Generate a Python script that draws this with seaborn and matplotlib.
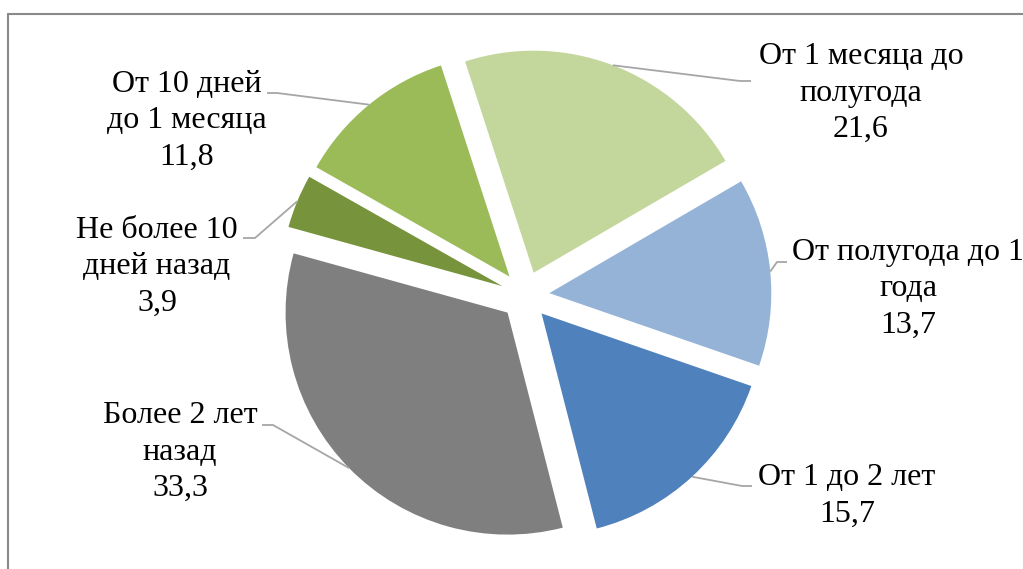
import numpy as np
import matplotlib
matplotlib.use("Agg")
import matplotlib.pyplot as plt
import seaborn as sns

# data, clockwise from the upper slice
labels = ["От 1 месяца до\nполугода", "От полугода до 1\nгода", "От 1 до 2 лет",
          "Более 2 лет\nназад", "Не более 10\nдней назад", "От 10 дней\nдо 1 месяца"]
values = [21.6, 13.7, 15.7, 33.3, 3.9, 11.8]
colors = ["#C3D69B", "#95B3D7", "#4F81BD", "#7F7F7F", "#77933C", "#9BBB59"]

sns.set_style("white")
plt.rcParams['font.family'] = ['Liberation Serif', 'DejaVu Serif']

W, H = 1023, 569
CX, CY, R = 525, 295.5, 222.0
EXPLODE = 0.11

# label block centres, elbow and end of the leader line (pixels)
label_pos = [(861, 93), (908, 289), (847, 496), (180, 452), (157, 267), (187, 121)]
leader = [((740, 81), (751, 81)), ((777, 262), (787, 262)), ((742, 486), (752, 486)),
          ((273, 425), (262, 425)), ((255, 238), (243, 238)), ((277, 93), (267, 93))]


def px(x, y):
    return (x - CX) / R, (CY - y) / R


fig = plt.figure(figsize=(W / 100, H / 100), dpi=100)
ax = fig.add_axes([0, 0, 1, 1])
palette = sns.color_palette(colors)
wedges, _ = ax.pie(values, colors=palette, startangle=108, counterclock=False,
                   explode=[EXPLODE] * len(values), radius=1,
                   wedgeprops=dict(linewidth=0))

for w, lab, v, pos, (elb, end) in zip(wedges, labels, values, label_pos, leader):
    mid = np.deg2rad((w.theta1 + w.theta2) / 2)
    sx = w.center[0] + w.r * np.cos(mid)
    sy = w.center[1] + w.r * np.sin(mid)
    ex, ey = px(*elb)
    tx, ty = px(*end)
    ax.plot([sx, ex, tx], [sy, ey, ty], color="#A6A6A6", lw=1.3, solid_capstyle="butt")
    txt = lab + "\n" + f"{v:.1f}".replace(".", ",")
    lx, ly = px(*pos)
    ax.text(lx, ly, txt, ha="center", va="center", multialignment="center",
            fontsize=23, color="black", linespacing=1.34)

ax.set_xlim(-CX / R, (W - CX) / R)
ax.set_ylim((CY - H) / R, CY / R)
ax.set_aspect("auto")
ax.axis("off")

# chart frame (left and top edges visible, rest cut off)
fig.add_artist(plt.Line2D([8 / W, 8 / W], [0, 1 - 14 / H], color="#898989", lw=1.5,
                          transform=fig.transFigure))
fig.add_artist(plt.Line2D([8 / W, 1], [1 - 14 / H, 1 - 14 / H], color="#898989", lw=1.5,
                          transform=fig.transFigure))

fig.savefig("out.png", dpi=100)
